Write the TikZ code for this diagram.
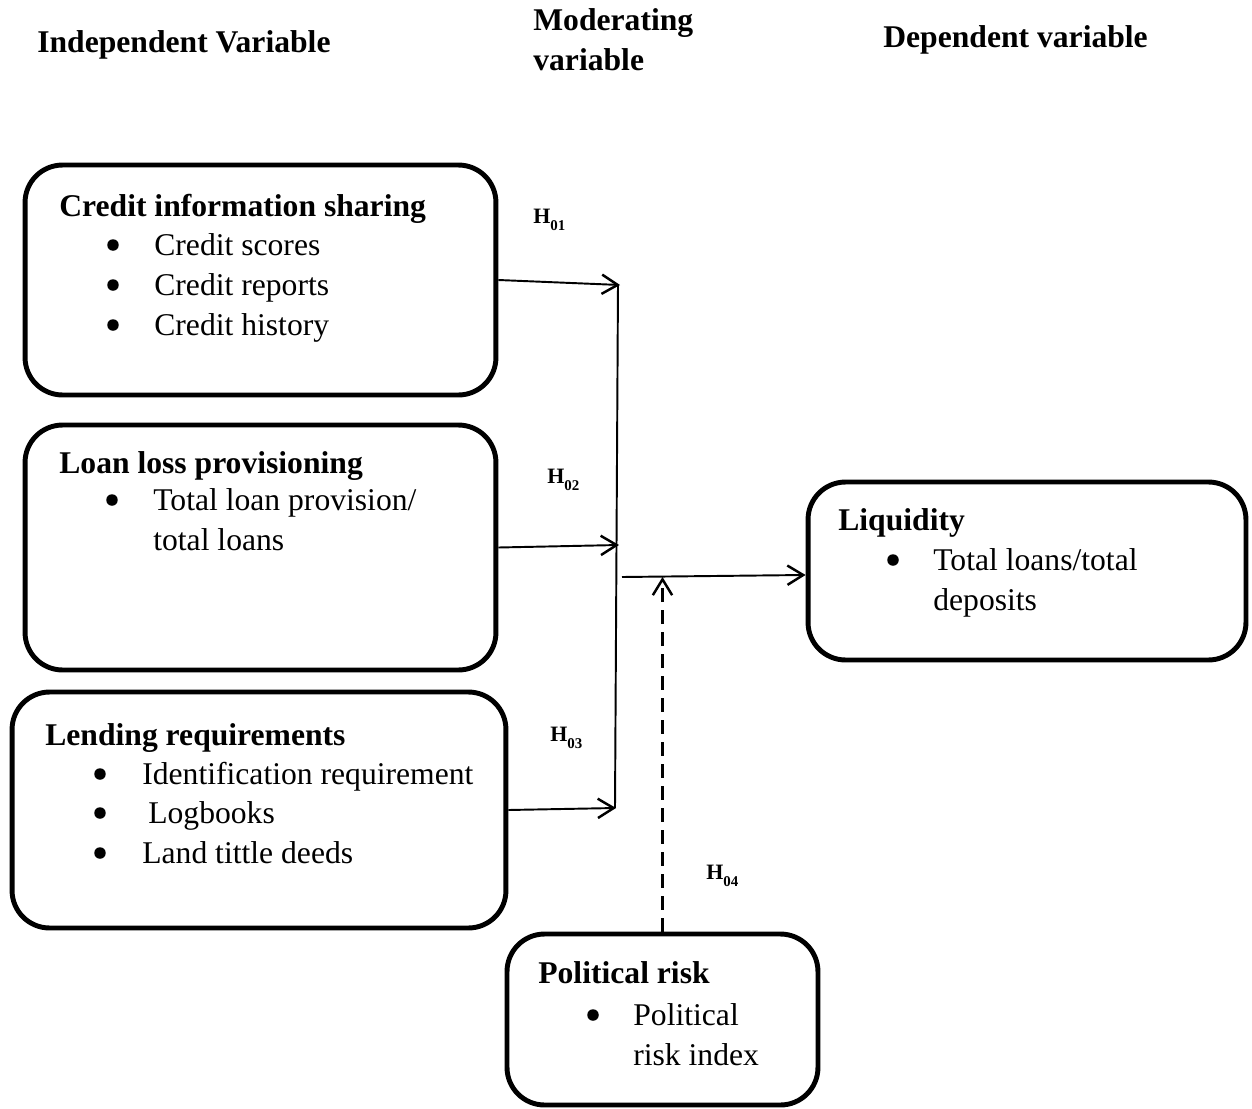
\documentclass[tikz,border=0pt]{standalone}
\usepackage{fontspec}
\setmainfont{Liberation Serif}
\usetikzlibrary{arrows.meta}
\tikzset{
  box/.style={draw, rectangle, line width=2.8pt, rounded corners=0.75cm, inner sep=0pt},
  txt/.style={anchor=base west, inner sep=0pt, font=\fontsize{18}{22}\selectfont},
  ttl/.style={anchor=base west, inner sep=0pt, font=\fontsize{18}{22}\selectfont\bfseries},
  bul/.style={circle, fill, inner sep=0pt, minimum size=0.23cm},
  hlab/.style={anchor=base west, inner sep=0pt, font=\fontsize{12.5}{14}\selectfont\bfseries},
  conn/.style={line width=1.1pt},
  arr/.style={conn, -{Straight Barb[length=9pt,width=11pt,line width=1.4pt]}},
  darr/.style={line width=1.5pt, dash pattern=on 8pt off 4.5pt, -{Straight Barb[length=9pt,width=11pt,line width=1.4pt]}},
}
\newcommand{\hyp}[1]{H\raisebox{-4pt}{\fontsize{8.5}{9}\selectfont #1}}
\begin{document}
\begin{tikzpicture}[x=0.02cm, y=-0.02cm]
\useasboundingbox (0,0) rectangle (1252,1109);

% headers
\node[ttl] (hind) at (37,52) {Independent Variable};
\node[ttl] (hmodA) at (533,30) {Moderating};
\node[ttl] (hmodB) at (533,70) {variable};
\node[ttl] (hdep) at (883,47) {Dependent variable};

% boxes
\node[box, minimum width=9.42cm, minimum height=4.6cm] (b1) at (260.5,280) {};
\node[box, minimum width=9.42cm, minimum height=4.9cm] (b2) at (260.5,547.5) {};
\node[box, minimum width=9.88cm, minimum height=4.72cm] (b3) at (259,810) {};
\node[box, minimum width=8.76cm, minimum height=3.56cm] (b4) at (1027,571) {};
\node[box, minimum width=6.22cm, minimum height=3.42cm] (b5) at (662.5,1019.5) {};

% box 1 text
\node[ttl] (t1) at (59,216) {Credit information sharing};
\node[bul] (p1a) at (113,245) {};
\node[bul] (p1b) at (113,285) {};
\node[bul] (p1c) at (113,325) {};
\node[txt] (l1a) at (154,255) {Credit scores};
\node[txt] (l1b) at (154,295) {Credit reports};
\node[txt] (l1c) at (154,335) {Credit history};

% box 2 text
\node[ttl] (t2) at (59,473) {Loan loss provisioning};
\node[bul] (p2a) at (112,500) {};
\node[txt] (l2a) at (153,510) {Total loan provision/};
\node[txt] (l2b) at (153,550) {total loans};

% box 3 text
\node[ttl] (t3) at (45,745) {Lending requirements};
\node[bul] (p3a) at (100,774) {};
\node[bul] (p3b) at (100,813) {};
\node[bul] (p3c) at (100,853) {};
\node[txt] (l3a) at (142,784) {Identification requirement};
\node[txt] (l3b) at (148,823) {Logbooks};
\node[txt] (l3c) at (142,863) {Land tittle deeds};

% box 4 text
\node[ttl] (t4) at (838,530) {Liquidity};
\node[bul] (p4a) at (893,560) {};
\node[txt] (l4a) at (933,570) {Total loans/total};
\node[txt] (l4b) at (933,610) {deposits};

% box 5 text
\node[ttl] (t5) at (538,983) {Political risk};
\node[bul] (p5a) at (593,1015) {};
\node[txt] (l5a) at (633,1025) {Political};
\node[txt] (l5b) at (633,1065) {risk index};

% hypothesis labels
\node[hlab] (H1) at (533,223) {\hyp{01}};
\node[hlab] (H2) at (547,483) {\hyp{02}};
\node[hlab] (H3) at (550,741) {\hyp{03}};
\node[hlab] (H4) at (706,879) {\hyp{04}};

% connectors
\coordinate (vt) at (618,284);
\coordinate (vb) at (615,808);
\coordinate (v1) at (620,285);
\coordinate (v2) at (619,545);
\coordinate (v3) at (616,808);
\coordinate (hs) at (622,577);

\draw[conn] (vt) -- (vb);
\draw[arr] (b1.east) -- (v1);
\draw[arr] (b2.east) -- (v2);
\draw[arr] (b3.east) -- (v3);
\draw[arr] (hs) -- ([yshift=-2.27pt]b4.west);
\draw[darr] (b5.north) -- (b5.north |- hs);
\end{tikzpicture}
\end{document}
